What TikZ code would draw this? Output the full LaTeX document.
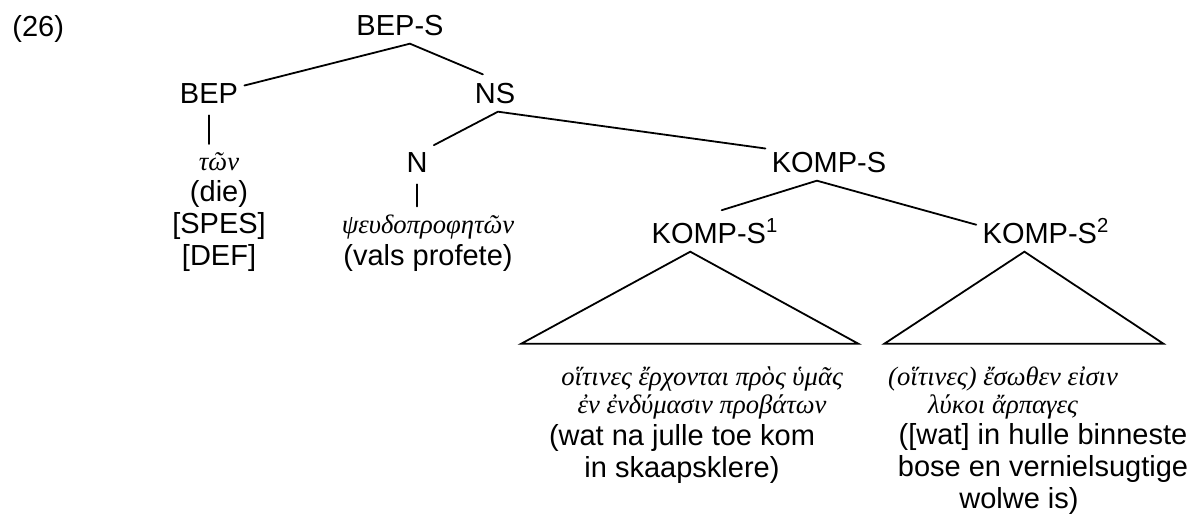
\documentclass[tikz,border=0pt]{standalone}
\usepackage{fontspec}
\usepackage{tikz}
\usetikzlibrary{calc}
\setmainfont{Liberation Sans}
\newfontfamily\grk[Script=Greek]{Liberation Serif}
\newcommand{\catfont}{\fontsize{14.5}{15.8}\selectfont}
\newcommand{\grkfont}{\grk\itshape\fontsize{13.3}{14}\selectfont}
\tikzset{
  cat/.style={anchor=base,inner xsep=3pt,inner ysep=4pt,font=\catfont},
  gloss/.style={anchor=base,align=center,inner sep=4pt,font=\catfont},
  greek/.style={anchor=base,align=center,inner sep=4pt,font=\grkfont},
  branch/.style={line width=0.9pt,line cap=round}
}

\begin{document}
\begin{tikzpicture}[x=0.5pt,y=-0.5pt]
  \useasboundingbox (0,0) rectangle (1200,526);
  \node[cat,anchor=base west,inner sep=0pt] (ex) at (12,36) {(26)};
  % categories
  \node[cat] (bepS) at (400,35) {BEP-S};
  \node[cat] (bep) at (209,103) {BEP};
  \node[cat] (ns) at (495,103) {NS};
  \node[cat] (n) at (417,172) {N};
  \node[cat] (komps) at (829,172) {KOMP-S};
  \node[cat] (kompsA) at (715,243) {KOMP-S\textsuperscript{1}};
  \node[cat] (kompsB) at (1046,243) {KOMP-S\textsuperscript{2}};
  % words and glosses (base = last line)
  \node[gloss] (tonCol) at (219,265) {{\grkfont τῶν}\\(die)\\{[SPES]}\\{[DEF]}};
  \node[gloss] (psCol) at (428,265) {{\grkfont ψευδοπροφητῶν}\\(vals profete)};
  \node[greek] (grA) at (702,413) {οἵτινες ἔρχονται πρὸς ὑμᾶς\\ἐν ἐνδύμασιν προβάτων};
  \node[gloss] (afA) at (682,477) {(wat na julle toe kom\\in skaapsklere)};
  \node[greek] (grB) at (1003,413) {(οἵτινες) ἔσωθεν εἰσιν\\λύκοι ἄρπαγες};
  \node[gloss] (afB) at (1043,508) {([wat] in hulle binneste\\bose en vernielsugtige\\wolwe is)\hspace*{24pt}};
  % branches
  \draw[branch] (bep.12) -- (bepS.-62) -- (ns.123);
  \draw[branch] (n.45) -- (ns.-81) -- (komps.168);
  \draw[branch] (kompsA.72) -- (komps.-123) -- (kompsB.175);
  \draw[branch,shorten <=2pt] (bep.south) -- (bep.south |- tonCol.north);
  \draw[branch,shorten <=2pt] (n.south) -- (n.south |- psCol.north);
  % roofs
  \draw[branch] (kompsA.-140) -- ++(-169,92) -- ++(337,0) -- cycle;
  \draw[branch] (kompsB.-136) -- ++(-140,92) -- ++(279,0) -- cycle;
\end{tikzpicture}
\end{document}
